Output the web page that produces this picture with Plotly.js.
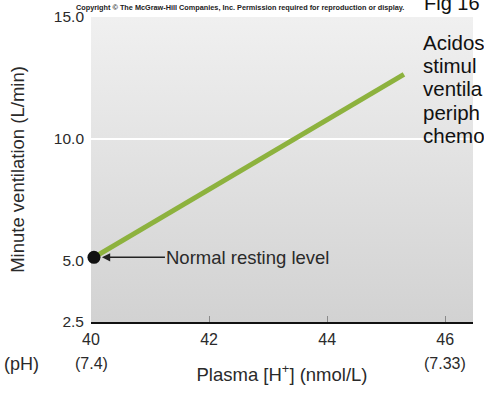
<!DOCTYPE html>
<html>
<head>
<meta charset="utf-8">
<script src="https://cdn.plot.ly/plotly-3.0.1.min.js"></script>
<style>html,body{margin:0;padding:0;background:#fff;}#chart{width:484px;height:400px;}</style>
</head>
<body>
<div id="chart"></div>
<script>
// ---- data ----
const lineX = [40.05, 45.3];            // plasma [H+] (nmol/L)
const lineY = [5.15, 12.65];            // minute ventilation (L/min)
const restX = [40.05];
const restY = [5.15];
const xTickVals = [40, 42, 44, 46];
const xTickText = ['40', '42', '44', '46'];
const phTickVals = [40, 46];
const phTickText = ['(7.4)', '(7.33)'];
const yTickVals = [2.5, 5, 10, 15];
const yTickText = ['2.5', '5.0', '10.0', '15.0'];
const gridYVals = [10];
const sideLines = ['Acidos', 'stimul', 'ventila', 'periph', 'chemo'];

const FONT = 'Liberation Sans, Arial, Helvetica, sans-serif';
const GREEN = '#8db23e';

const gradSvg = '<svg xmlns="http://www.w3.org/2000/svg" width="10" height="100" preserveAspectRatio="none">' +
  '<defs><linearGradient id="g" x1="0" y1="0" x2="0" y2="1">' +
  '<stop offset="0" stop-color="#f0f0f0"/><stop offset="1" stop-color="#d2d2d2"/></linearGradient></defs>' +
  '<rect width="10" height="100" fill="url(#g)"/></svg>';
const gradSrc = 'data:image/svg+xml;charset=utf-8,' + encodeURIComponent(gradSvg);

const traces = [
  {x: lineX, y: lineY, mode: 'lines', line: {color: GREEN, width: 5}, cliponaxis: false, hoverinfo: 'skip', showlegend: false},
  {x: restX, y: restY, mode: 'markers', marker: {color: '#111', size: 13}, cliponaxis: false, hoverinfo: 'skip', showlegend: false}
];

const annotations = [
  {x: restX[0], y: restY[0], xref: 'x', yref: 'y', text: 'Normal resting level', showarrow: true,
   ax: 154, ay: 0, arrowhead: 2, arrowsize: 1.1, arrowwidth: 1.5, arrowcolor: '#222', standoff: 8,
   font: {family: FONT, size: 18.5, color: '#2a2a2a'}},
  {x: -0.183, y: 0, xref: 'paper', yref: 'paper', xanchor: 'center', yanchor: 'middle', yshift: -42,
   text: '(pH)', showarrow: false, font: {family: FONT, size: 18, color: '#2a2a2a'}},
  {x: 0.867, y: 1.047, xref: 'paper', yref: 'paper', xanchor: 'left', yanchor: 'middle',
   text: 'Fig 16', showarrow: false, font: {family: FONT, size: 20, color: '#111'}},
  {x: 0.39, y: 1, xref: 'paper', yref: 'paper', xanchor: 'center', yanchor: 'middle', yshift: 10,
   text: '<b>Copyright © The McGraw-Hill Companies, Inc. Permission required for reproduction or display.</b>',
   showarrow: false, font: {family: FONT, size: 7.3, color: '#222'}}
];
sideLines.forEach((t, i) => annotations.push({
  x: 0.864, y: 1, xref: 'paper', yref: 'paper', xanchor: 'left', yanchor: 'middle', align: 'left',
  yshift: -(25 + i * 23.4), text: t, showarrow: false, font: {family: FONT, size: 20.5, color: '#111'}
}));
phTickVals.forEach((v, i) => annotations.push({
  x: v, y: 0, xref: 'x', yref: 'paper', xanchor: 'center', yanchor: 'middle', yshift: -41,
  text: phTickText[i], showarrow: false, font: {family: FONT, size: 16, color: '#2a2a2a'}
}));

const shapes = gridYVals.map(v => ({
  type: 'line', xref: 'paper', yref: 'y', x0: 0, x1: 1, y0: v, y1: v,
  line: {color: '#ffffff', width: 2}, layer: 'below'
}));

const layout = {
  width: 484, height: 400,
  margin: {l: 91, r: 11, t: 17, b: 78, pad: 0},
  paper_bgcolor: '#ffffff', plot_bgcolor: 'rgba(0,0,0,0)',
  font: {family: FONT, color: '#2a2a2a'},
  showlegend: false,
  images: [{source: gradSrc, xref: 'paper', yref: 'paper', x: 0, y: 1, sizex: 1, sizey: 1,
            xanchor: 'left', yanchor: 'top', sizing: 'stretch', layer: 'below'}],
  xaxis: {
    range: [40, 46.47], tickvals: xTickVals, ticktext: xTickText,
    ticks: 'inside', ticklen: 6, tickwidth: 1, tickcolor: '#8a8a8a',
    showline: true, linecolor: '#111', linewidth: 2, showgrid: false, zeroline: false,
    tickfont: {family: FONT, size: 16, color: '#2a2a2a'}, ticklabelstandoff: 2,
    title: {text: 'Plasma [H<sup>+</sup>] (nmol/L)', font: {family: FONT, size: 18.5, color: '#2a2a2a'}, standoff: 21},
    fixedrange: true
  },
  yaxis: {
    range: [2.5, 15], tickvals: yTickVals, ticktext: yTickText,
    ticks: '', showline: false, showgrid: false, zeroline: false,
    tickfont: {family: FONT, size: 15.5, color: '#2a2a2a'}, ticklabelstandoff: 6,
    title: {text: 'Minute ventilation (L/min)', font: {family: FONT, size: 18.5, color: '#2a2a2a'}, standoff: 24},
    fixedrange: true
  },
  shapes: shapes,
  annotations: annotations
};

Plotly.newPlot('chart', traces, layout, {staticPlot: true, displayModeBar: false});
</script>
</body>
</html>
